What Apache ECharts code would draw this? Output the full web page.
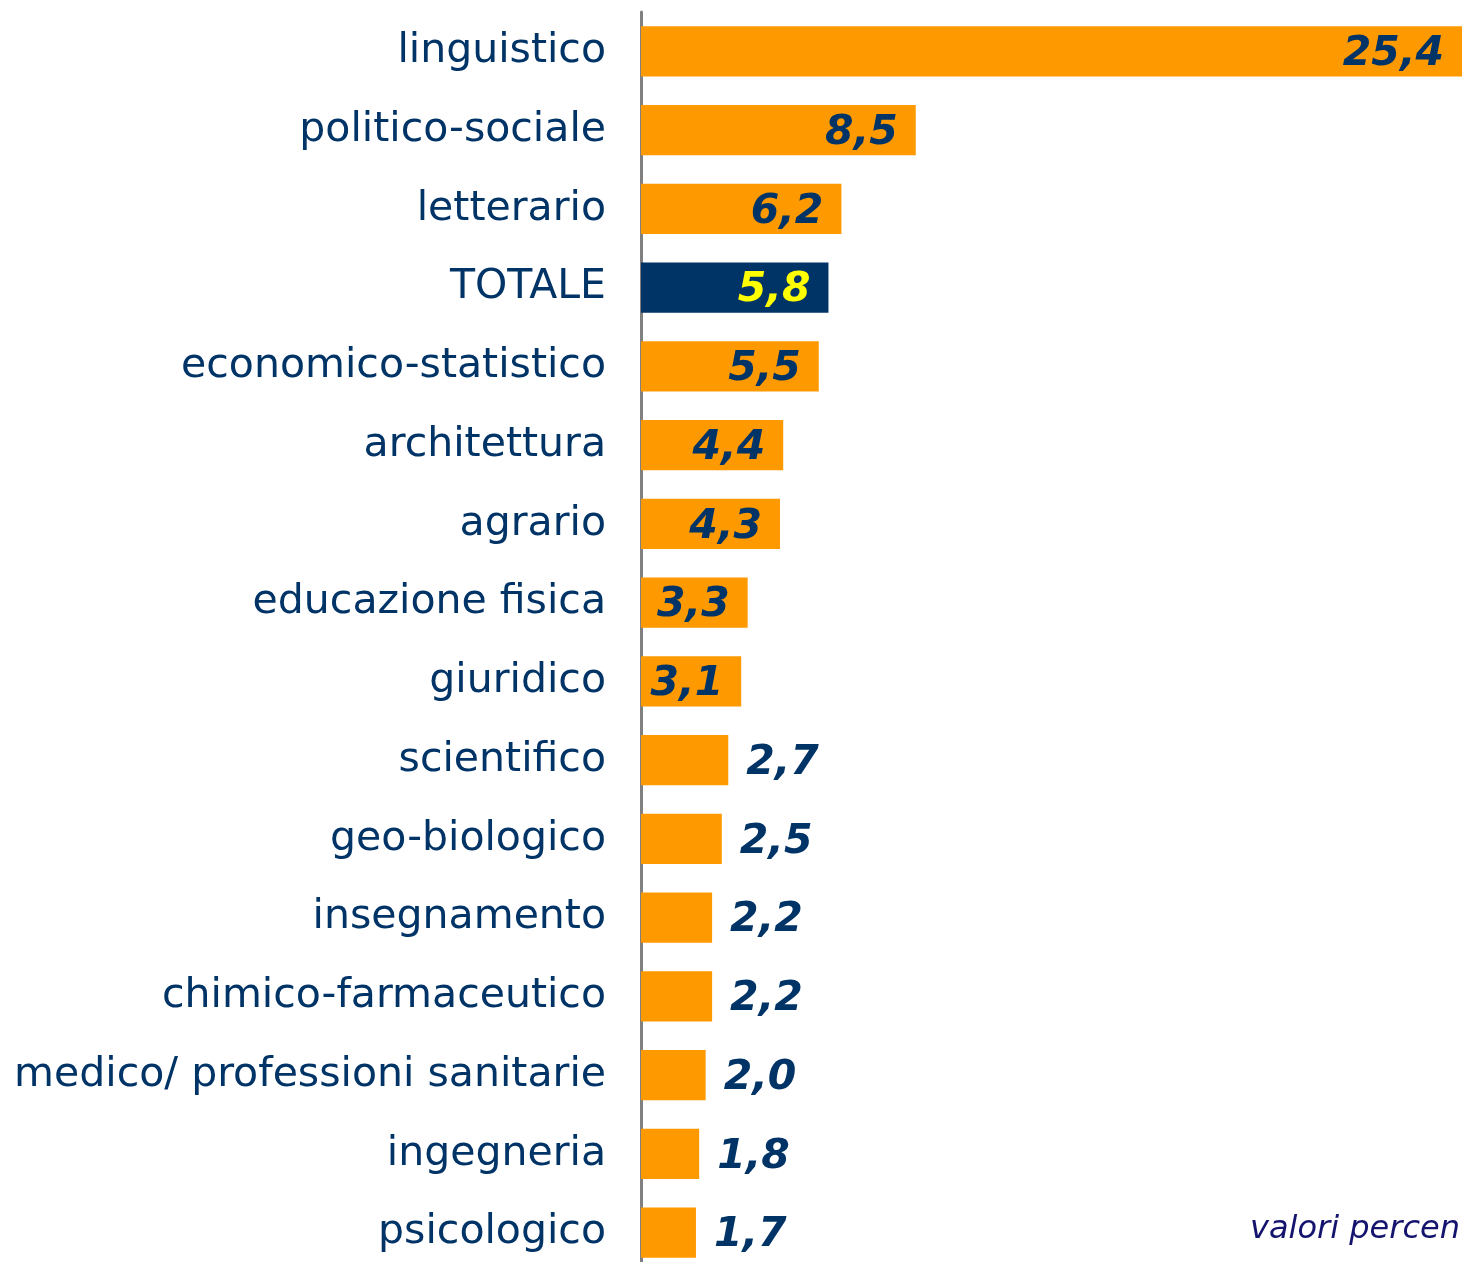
<!DOCTYPE html>
<html>
<head>
<meta charset="utf-8">
<script src="https://cdn.jsdelivr.net/npm/echarts@6/dist/echarts.min.js"></script>
<style>
  html, body { margin: 0; padding: 0; background: #fff; overflow: hidden; }
  /* a bit taller than the window: the last bar row runs past the bottom edge */
  #chart { width: 1462px; height: 1274px; }
</style>
</head>
<body>
<div id="chart"></div>
<script>
const categories = [
  'linguistico', 'politico-sociale', 'letterario', 'TOTALE', 'economico-statistico',
  'architettura', 'agrario', 'educazione fisica', 'giuridico', 'scientifico',
  'geo-biologico', 'insegnamento', 'chimico-farmaceutico',
  'medico/ professioni sanitarie', 'ingegneria', 'psicologico'
];
const values = [25.4, 8.5, 6.2, 5.8, 5.5, 4.4, 4.3, 3.3, 3.1, 2.7, 2.5, 2.2, 2.2, 2.0, 1.8, 1.7];
const totalLabel = 'TOTALE';
const footNote = 'valori percen';

const ORANGE = '#FF9900';
const NAVY = '#003366';
const FONT = '"DejaVu Sans", Verdana, sans-serif';

const chart = echarts.init(document.getElementById('chart'));

const fmt = v => v.toFixed(1).replace('.', ',');

chart.setOption({
  animation: false,
  grid: { left: 641, right: 0, top: 12, bottom: 2 },
  xAxis: {
    type: 'value',
    min: 0,
    max: 25.4,
    show: false
  },
  yAxis: {
    type: 'category',
    data: categories,
    inverse: true,
    axisLine: { show: true, lineStyle: { color: '#808080', width: 3 } },
    axisTick: { show: false },
    axisLabel: {
      margin: 35,
      fontFamily: FONT,
      fontSize: 41,
      color: NAVY
    }
  },
  series: [{
    type: 'bar',
    barWidth: '64%',
    data: values.map((v, i) => {
      const isTotal = categories[i] === totalLabel;
      const inside = v >= 3;
      return {
        value: v,
        itemStyle: { color: isTotal ? NAVY : ORANGE },
        label: {
          position: inside ? 'insideRight' : 'right',
          distance: inside ? 18 : 18,
          color: isTotal ? '#FFFF00' : NAVY
        }
      };
    }),
    label: {
      show: true,
      formatter: p => fmt(p.value),
      fontFamily: FONT,
      fontSize: 41,
      fontWeight: 'bold',
      fontStyle: 'italic',
      offset: [0, 3]
    }
  }],
  graphic: [{
    type: 'text',
    right: 2,
    top: 1214,
    style: {
      text: footNote,
      font: 'italic 32px ' + FONT,
      fill: '#14146e'
    }
  }]
});
</script>
</body>
</html>
